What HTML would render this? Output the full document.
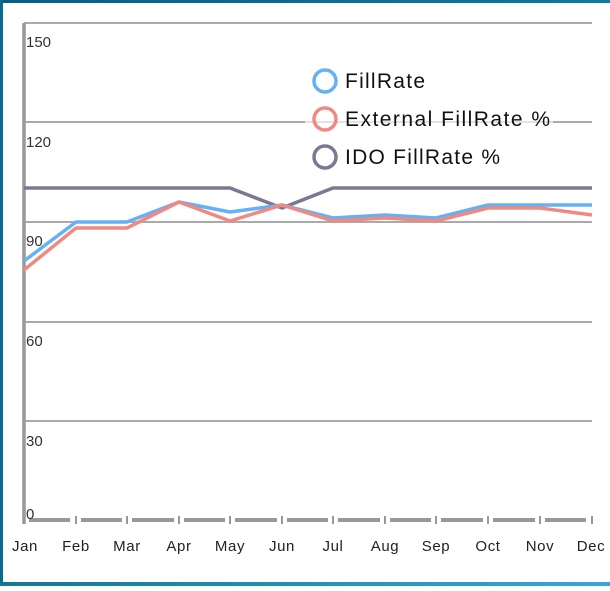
<!DOCTYPE html>
<html><head><style>
body{margin:0;width:610px;height:586px;overflow:hidden;background:#fff;font-family:"Liberation Sans",sans-serif}
</style></head><body>
<svg width="610" height="586" viewBox="0 0 610 586" xmlns="http://www.w3.org/2000/svg">
<defs><linearGradient id="g" x1="0" x2="1"><stop offset="0" stop-color="#0a5d8a"/><stop offset="1" stop-color="#0e7a9a"/></linearGradient>
<linearGradient id="g2" x1="0" x2="1"><stop offset="0" stop-color="#127a90"/><stop offset="1" stop-color="#3aa6d8"/></linearGradient></defs>
<rect x="0" y="0" width="610" height="3" fill="url(#g)"/>
<rect x="0" y="0" width="3" height="586" fill="#0b6a8d"/>
<rect x="0" y="582" width="610" height="4" fill="url(#g2)"/>
<g stroke="#aaa" stroke-width="2">
<line x1="24" y1="23" x2="592" y2="23"/>
<line x1="24" y1="122" x2="592" y2="122"/>
<line x1="24" y1="222" x2="592" y2="222"/>
<line x1="24" y1="322" x2="592" y2="322"/>
<line x1="24" y1="421" x2="592" y2="421"/>
</g>
<line x1="24" y1="23" x2="24" y2="524" stroke="#999" stroke-width="3.5"/>
<g stroke="#999" stroke-width="4">
<line x1="29" y1="520" x2="70" y2="520"/><line x1="81" y1="520" x2="122" y2="520"/><line x1="132" y1="520" x2="174" y2="520"/><line x1="184" y1="520" x2="225" y2="520"/><line x1="235" y1="520" x2="277" y2="520"/><line x1="287" y1="520" x2="328" y2="520"/><line x1="338" y1="520" x2="380" y2="520"/><line x1="390" y1="520" x2="431" y2="520"/><line x1="441" y1="520" x2="483" y2="520"/><line x1="493" y1="520" x2="535" y2="520"/><line x1="545" y1="520" x2="586" y2="520"/>
</g>
<g stroke="#999" stroke-width="2">
<line x1="76" y1="516" x2="76" y2="524"/><line x1="127" y1="516" x2="127" y2="524"/><line x1="179" y1="516" x2="179" y2="524"/><line x1="230" y1="516" x2="230" y2="524"/><line x1="282" y1="516" x2="282" y2="524"/><line x1="333" y1="516" x2="333" y2="524"/><line x1="385" y1="516" x2="385" y2="524"/><line x1="436" y1="516" x2="436" y2="524"/><line x1="488" y1="516" x2="488" y2="524"/><line x1="540" y1="516" x2="540" y2="524"/><line x1="592" y1="516" x2="592" y2="524"/>
</g>
<g font-size="15" fill="#333">
<text x="26" y="47">150</text><text x="26" y="147">120</text><text x="26" y="246">90</text><text x="26" y="346">60</text><text x="26" y="446">30</text><text x="26" y="519">0</text>
</g>
<g font-size="15" fill="#222" text-anchor="middle" letter-spacing="0.6">
<text x="25" y="551">Jan</text><text x="76" y="551">Feb</text><text x="127" y="551">Mar</text><text x="179" y="551">Apr</text><text x="230" y="551">May</text><text x="282" y="551">Jun</text><text x="333" y="551">Jul</text><text x="385" y="551">Aug</text><text x="436" y="551">Sep</text><text x="488" y="551">Oct</text><text x="540" y="551">Nov</text><text x="591" y="551">Dec</text>
</g>
<g fill="none" stroke-width="3.5" stroke-linejoin="round">
<polyline stroke="#7b7894" points="24,188 76,188 127,188 179,188 230,188 282,208 333,188 385,188 436,188 488,188 540,188 592,188"/>
<polyline stroke="#64b1f5" points="24,261 76,222 127,222 179,202 230,212 282,205 333,218 385,215 436,218 488,205 540,205 592,205"/>
<polyline stroke="#f08a80" points="24,270 76,228 127,228 179,202 230,221 282,205 333,221 385,218 436,221 488,208 540,208 592,215"/>
</g>
<rect x="305" y="62" width="248" height="114" fill="#fff"/>
<line x1="305" y1="122" x2="553" y2="122" stroke="#e2e2e2" stroke-width="2"/>
<g fill="none" stroke-width="3.5">
<circle cx="325" cy="81" r="11" stroke="#64b1f5"/>
<circle cx="325" cy="119" r="11" stroke="#f08a80"/>
<circle cx="325" cy="157" r="11" stroke="#7b7894"/>
</g>
<g font-size="21" fill="#111">
<text x="345" y="88" textLength="80" lengthAdjust="spacing">FillRate</text>
<text x="345" y="126" textLength="205" lengthAdjust="spacing">External FillRate %</text>
<text x="345" y="164" textLength="155" lengthAdjust="spacing">IDO FillRate %</text>
</g>
</svg>
</body></html>
